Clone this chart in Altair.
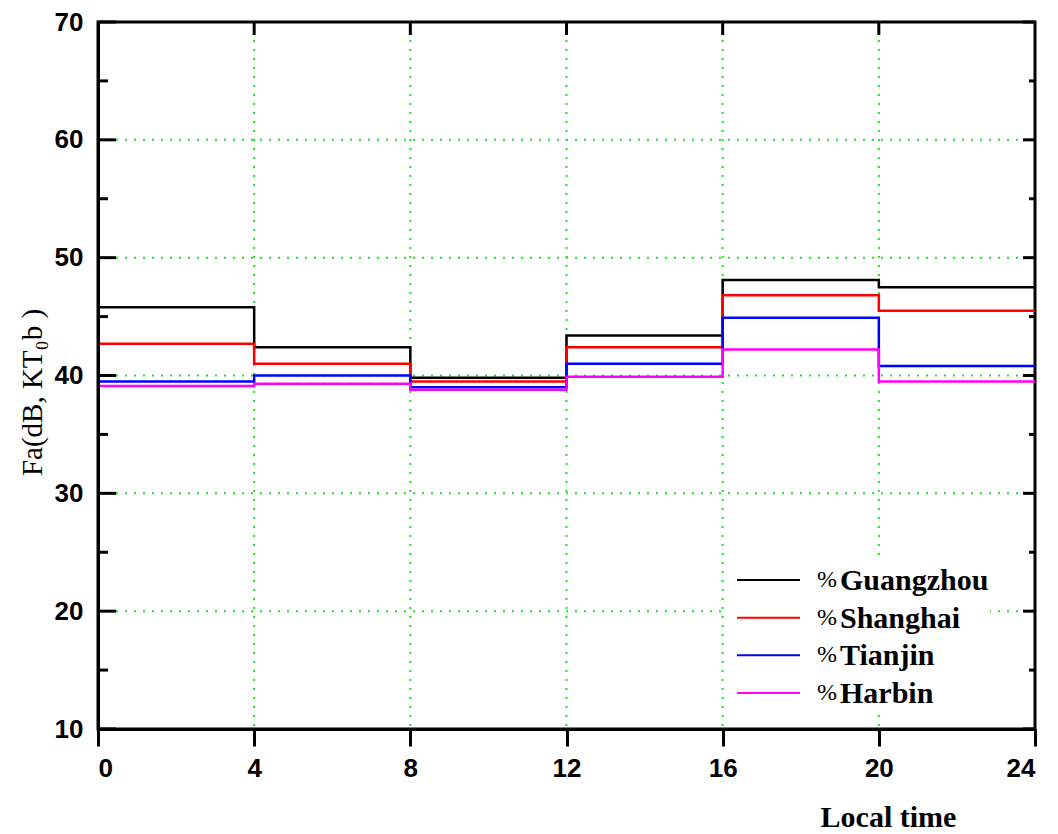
import altair as alt
import pandas as pd

# Local-time blocks (hours) and the noise factor Fa for each city
hours = [0, 4, 8, 12, 16, 20, 24]
cities = ["Guangzhou", "Shanghai", "Tianjin", "Harbin"]
guangzhou = [45.8, 42.4, 39.8, 43.4, 48.1, 47.5]
shanghai = [42.7, 41.0, 39.5, 42.4, 46.8, 45.5]
tianjin = [39.5, 40.0, 39.0, 41.0, 44.9, 40.8]
harbin = [39.1, 39.3, 38.8, 39.9, 42.2, 39.5]
colors = ["#000000", "#ff0000", "#0000ff", "#ff00ff"]

y_major = [10, 20, 30, 40, 50, 60, 70]
y_minor = [15, 25, 35, 45, 55, 65]
x_grid = [4, 8, 12, 16, 20]
y_grid = [20, 30, 40, 50, 60]

W, H = 937, 707

rows = []
for name, vals in zip(cities, [guangzhou, shanghai, tianjin, harbin]):
    for h, v in zip(hours[:-1], vals):
        rows.append({"city": name, "h": h, "v": v})
    # close the last 4-hour block at 24 h
    rows.append({"city": name, "h": hours[-1], "v": vals[-1]})
df = pd.DataFrame(rows)

tick_font = "Liberation Sans"
serif = "Liberation Serif"

x_axis = alt.Axis(
    values=hours, title="Local time", grid=False,
    labelFont=tick_font, labelFontWeight="bold", labelFontSize=26, labelColor="black",
    tickSize=17, tickWidth=3, tickColor="black",
    domainWidth=3, domainColor="black", labelPadding=9,
    titleFont=serif, titleFontWeight="bold", titleFontSize=30, titleColor="black",
    titleX=790, titleY=97, titleBaseline="alphabetic", titleAlign="center",
    zindex=1,
)
y_axis = alt.Axis(
    values=y_major, title="Fa(dB, KT₀b )", grid=False,
    labelFont=tick_font, labelFontWeight="bold", labelFontSize=26, labelColor="black",
    ticks=False, tickSize=0, labelPadding=15,
    domainWidth=3, domainColor="black",
    titleFont=serif, titleFontWeight="normal", titleFontSize=29, titleColor="black",
    titleX=-66, titleY=370, titleAlign="center", titleBaseline="middle",
    zindex=1,
)

xs = alt.Scale(domain=[0, 24], nice=False, zero=False)
ys = alt.Scale(domain=[10, 70], nice=False, zero=False)
X = alt.X("h:Q", scale=xs, axis=x_axis)
Y = alt.Y("v:Q", scale=ys, axis=y_axis)
color = alt.Color("city:N", scale=alt.Scale(domain=cities, range=colors), legend=None)

grid_style = dict(color="#22e022", strokeDash=[2, 7], strokeWidth=2)

vgrid = alt.Chart(pd.DataFrame({"h": x_grid})).mark_rule(**grid_style).encode(
    x=X, y=alt.value(0), y2=alt.value(H)
)
hgrid = alt.Chart(pd.DataFrame({"v": y_grid})).mark_rule(**grid_style).encode(
    y=Y, x=alt.value(0), x2=alt.value(W)
)

lines = alt.Chart(df).mark_line(interpolate="step-after", strokeWidth=2.5).encode(
    x=X, y=Y, color=color, order="h:Q"
)

# inward ticks on the frame
left_major = alt.Chart(pd.DataFrame({"v": y_major})).mark_rule(color="black", strokeWidth=3).encode(
    y=Y, x=alt.value(0), x2=alt.value(18)
)
left_minor = alt.Chart(pd.DataFrame({"v": y_minor})).mark_rule(color="black", strokeWidth=3).encode(
    y=Y, x=alt.value(0), x2=alt.value(10)
)
right_major = alt.Chart(pd.DataFrame({"v": y_major})).mark_rule(color="black", strokeWidth=3).encode(
    y=Y, x=alt.value(W), x2=alt.value(W - 12)
)
right_minor = alt.Chart(pd.DataFrame({"v": y_minor})).mark_rule(color="black", strokeWidth=3).encode(
    y=Y, x=alt.value(W), x2=alt.value(W - 6)
)
top_ticks = alt.Chart(pd.DataFrame({"h": x_grid})).mark_rule(color="black", strokeWidth=3).encode(
    x=X, y=alt.value(0), y2=alt.value(13)
)

plot = alt.layer(vgrid, hgrid, lines, left_major, left_minor, right_major, right_minor, top_ticks)

# legend panel in the lower right
legend_df = pd.DataFrame({"city": cities})
LY = alt.Y("city:N", scale=alt.Scale(type="point", domain=cities, range=[558, 671], padding=0), axis=None)

legend_bg = alt.Chart(alt.Data(values=[{}])).mark_rect(color="white").encode(
    x=alt.value(627), x2=alt.value(892), y=alt.value(536), y2=alt.value(692)
)
legend_lines = alt.Chart(legend_df).mark_rule(strokeWidth=2).encode(
    y=LY, x=alt.value(639), x2=alt.value(702), color=color
)
legend_pct = alt.Chart(legend_df).mark_text(
    font=serif, fontSize=24, align="left", baseline="middle", color="black", dy=0
).encode(y=LY, x=alt.value(719), text=alt.value("%"))
legend_text = alt.Chart(legend_df).mark_text(
    font=serif, fontSize=30, fontWeight="bold", align="left", baseline="middle", color="black", dy=1
).encode(y=LY, x=alt.value(742), text="city:N")

legend = alt.layer(legend_bg, legend_lines, legend_pct, legend_text)

chart = alt.layer(plot, legend).resolve_scale(y="independent").properties(
    width=W, height=H,
    padding={"left": 98, "top": 22, "right": 23, "bottom": 105},
    autosize="none",
    background="white",
).configure_view(stroke="black", strokeWidth=3)

chart.save("out.html", embed_options={"renderer": "svg", "actions": False})
